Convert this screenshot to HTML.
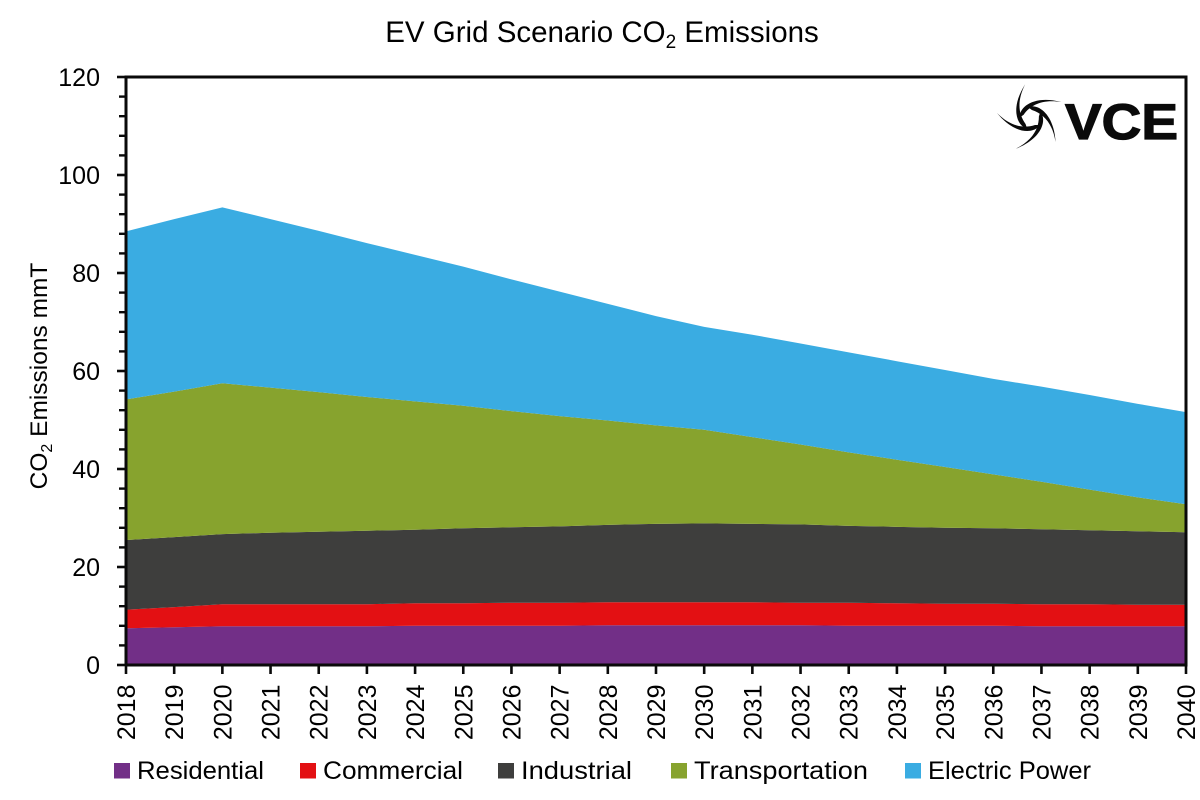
<!DOCTYPE html>
<html lang="en">
<head>
<meta charset="utf-8">
<title>EV Grid Scenario CO2 Emissions</title>
<style>
html,body{margin:0;padding:0;background:#fff;width:1200px;height:800px;overflow:hidden}
svg{display:block}
text{font-family:"Liberation Sans",sans-serif;fill:#000}
</style>
</head>
<body>
<svg id="chart" width="1200" height="800" viewBox="0 0 1200 800" xmlns="http://www.w3.org/2000/svg">
  <text x="602" y="42" font-size="29.5" text-anchor="middle">EV Grid Scenario CO<tspan font-size="19" dy="6">2</tspan><tspan dy="-6"> Emissions</tspan></text>
  <text transform="translate(47,376) rotate(-90)" font-size="24.5" text-anchor="middle">CO<tspan font-size="16" dy="5">2</tspan><tspan dy="-5"> Emissions mmT</tspan></text>
  <g id="areas"></g>
  <g id="axes"></g>
  <g id="legend"></g>
  <g>
    <g transform="translate(1031,118)" fill="#0a0a0a">
      <path d="M9,7 C3,16 -16,17 -34,-5 C-21,8 -8,11 4,7 Z"/>
      <path d="M9,7 C3,16 -16,17 -34,-5 C-21,8 -8,11 4,7 Z" transform="rotate(72)"/>
      <path d="M9,7 C3,16 -16,17 -34,-5 C-21,8 -8,11 4,7 Z" transform="rotate(144)"/>
      <path d="M9,7 C3,16 -16,17 -34,-5 C-21,8 -8,11 4,7 Z" transform="rotate(216)"/>
      <path d="M9,7 C3,16 -16,17 -34,-5 C-21,8 -8,11 4,7 Z" transform="rotate(288)"/>
    </g>
    <text x="1065" y="139" font-size="50" font-weight="bold" textLength="113" lengthAdjust="spacingAndGlyphs" style="fill:#0a0a0a;stroke:#0a0a0a;stroke-width:1.2">VCE</text>
  </g>
</svg>
<script>
const years = [2018,2019,2020,2021,2022,2023,2024,2025,2026,2027,2028,2029,2030,2031,2032,2033,2034,2035,2036,2037,2038,2039,2040];
const residential = [7.5,7.7,7.9,7.9,7.9,7.9,8.0,8.0,8.0,8.0,8.1,8.1,8.1,8.1,8.1,8.0,8.0,8.0,8.0,7.9,7.9,7.9,7.9];
const commercial = [3.8,4.1,4.5,4.5,4.5,4.5,4.6,4.6,4.7,4.7,4.7,4.7,4.7,4.7,4.6,4.7,4.6,4.5,4.5,4.5,4.5,4.4,4.4];
const industrial = [14.2,14.3,14.3,14.6,14.8,15.0,15.0,15.3,15.4,15.6,15.8,16.0,16.1,16.0,16.0,15.7,15.6,15.5,15.4,15.3,15.1,15.0,14.8];
const transportation = [28.7,29.7,30.8,29.6,28.5,27.3,26.2,25.0,23.7,22.5,21.3,20.1,19.1,17.7,16.3,15.0,13.7,12.4,11.0,9.7,8.3,6.9,5.7];
const electricPower = [34.3,35.2,35.9,34.4,32.9,31.4,29.9,28.4,26.9,25.4,23.8,22.3,21.0,20.9,20.6,20.4,20.1,19.8,19.5,19.4,19.3,19.1,18.8];
const yTicks = [0,20,40,60,80,100,120];
const yMinorTicks = [4,8,12,16,24,28,32,36,44,48,52,56,64,68,72,76,84,88,92,96,104,108,112,116];
const seriesNames = ['Residential','Commercial','Industrial','Transportation','Electric Power'];
const seriesKeys = ['residential','commercial','industrial','transportation','electric-power'];
const seriesColors = ['#722f87','#e31013','#3e3e3d','#87a32e','#3aace2'];

const NS = 'http://www.w3.org/2000/svg';
const plotLeft = 126, plotRight = 1186, plotTop = 77, plotBottom = 665, yMax = 120;
const xScale = function (i) { return plotLeft + (plotRight - plotLeft) * i / (years.length - 1); };
const yScale = function (v) { return plotBottom - (plotBottom - plotTop) * v / yMax; };
const mk = function (tag, attrs, parent) {
  const el = document.createElementNS(NS, tag);
  Object.keys(attrs).forEach(function (k) { el.setAttribute(k, attrs[k]); });
  parent.appendChild(el);
  return el;
};

const areasGroup = document.getElementById('areas');
const axesGroup = document.getElementById('axes');
const legendGroup = document.getElementById('legend');

const allSeries = [residential, commercial, industrial, transportation, electricPower];
let lower = years.map(function () { return 0; });
allSeries.forEach(function (values, s) {
  const upper = values.map(function (v, i) { return lower[i] + v; });
  let d = '';
  upper.forEach(function (v, i) { d += (i ? 'L' : 'M') + xScale(i).toFixed(2) + ',' + yScale(v).toFixed(2); });
  for (let i = years.length - 1; i >= 0; i--) { d += 'L' + xScale(i).toFixed(2) + ',' + yScale(lower[i]).toFixed(2); }
  d += 'Z';
  const area = mk('path', { d: d, fill: seriesColors[s] }, areasGroup);
  
  
  lower = upper;
});

const frame = mk('path', { d: 'M' + plotLeft + ',' + plotBottom + 'V' + plotTop + 'H' + plotRight + 'V' + plotBottom + 'H' + plotLeft, fill: 'none', stroke: '#0a0a0a', 'stroke-width': 3 }, axesGroup);



yTicks.forEach(function (t) {
  const y = yScale(t);
  const tick = mk('line', { x1: 117, x2: plotLeft, y1: y, y2: y, stroke: '#0a0a0a', 'stroke-width': 2.6 }, axesGroup);
  
  
  const label = mk('text', { x: 100, y: y + 9, 'font-size': 25, 'text-anchor': 'end' }, axesGroup);
  label.textContent = t;
  
  
});
yMinorTicks.forEach(function (t) {
  const y = yScale(t);
  const tick = mk('line', { x1: 119, x2: plotLeft, y1: y, y2: y, stroke: '#0a0a0a', 'stroke-width': 2.4 }, axesGroup);
  
  
});
years.forEach(function (yr, i) {
  const x = xScale(i);
  const tick = mk('line', { x1: x, x2: x, y1: plotBottom, y2: 674, stroke: '#0a0a0a', 'stroke-width': 2.6 }, axesGroup);
  
  
  const label = mk('text', { transform: 'translate(' + (x + 9) + ',684.5) rotate(-90)', 'font-size': 25, 'text-anchor': 'end' }, axesGroup);
  label.textContent = yr;
  
  
});

const legendSwatchX = [114, 300, 498, 671, 905];
const legendTextWidth = [127, 140, 111, 174, 163];
seriesNames.forEach(function (name, s) {
  const sw = mk('rect', { x: legendSwatchX[s], y: 763, width: 16, height: 15.5, fill: seriesColors[s] }, legendGroup);
  
  
  const label = mk('text', { x: legendSwatchX[s] + 23, y: 779, 'font-size': 25, textLength: legendTextWidth[s], lengthAdjust: 'spacingAndGlyphs' }, legendGroup);
  label.textContent = name;
  
  
});
</script>
</body>
</html>
